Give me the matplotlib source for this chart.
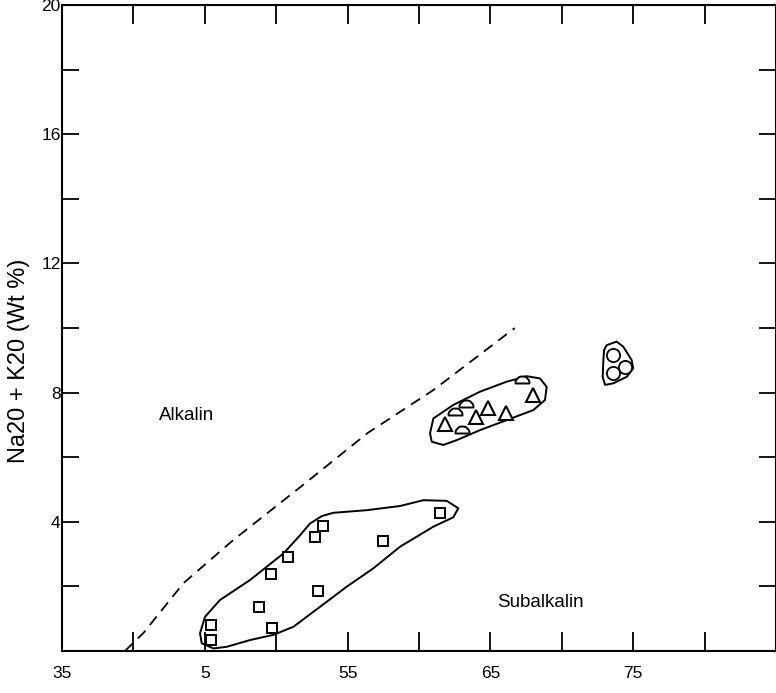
import matplotlib
matplotlib.use("Agg")
import matplotlib.pyplot as plt
import matplotlib.path as mpath
import numpy as np

plt.rcParams['font.family'] = ['Liberation Sans', 'DejaVu Sans']

# sample points (SiO2 wt%, Na2O + K2O wt%)
sq_x = [45.4, 45.4, 49.7, 48.8, 52.9, 49.6, 50.8, 52.7, 53.3, 57.5, 61.5]
sq_y = [0.80, 0.34, 0.71, 1.36, 1.86, 2.38, 2.91, 3.53, 3.87, 3.41, 4.27]

tri_x = [61.8, 64.0, 64.8, 66.1, 68.0]
tri_y = [7.03, 7.25, 7.51, 7.38, 7.93]

dome_x = [62.5, 63.3, 63.0, 67.2]
dome_y = [7.31, 7.56, 6.76, 8.29]

circ_x = [73.6, 74.4, 73.6]
circ_y = [9.16, 8.80, 8.62]

# alkaline / subalkaline divide
div_x = [39.4, 40.7, 43.5, 47.0, 51.7, 56.4, 61.0, 66.7]
div_y = [0.0, 0.56, 2.1, 3.44, 5.08, 6.75, 8.08, 10.0]

# group envelopes
env1_x = [44.66, 45.01, 46.06, 48.17, 50.5, 51.6, 52.37, 53.2, 54.0, 56.33, 58.67, 60.3, 61.94,
          62.75, 62.4, 61.0, 58.67, 56.8, 54.93, 53.07, 51.2, 49.8, 48.17, 46.53,
          45.6, 44.78]
env1_y = [0.55, 1.06, 1.58, 2.20, 3.02, 3.55, 3.95, 4.18, 4.28, 4.36, 4.49, 4.67, 4.65,
          4.42, 4.14, 3.85, 3.23, 2.56, 1.99, 1.37, 0.75, 0.50, 0.34, 0.13,
          0.08, 0.24]

env2_x = [60.77, 61.0, 62.4, 64.27, 66.14, 67.54, 68.47, 68.94, 68.82, 68.0,
          66.14, 64.27, 62.64, 61.7, 60.89]
env2_y = [6.74, 7.20, 7.62, 8.03, 8.34, 8.51, 8.44, 8.18, 7.77, 7.46,
          7.15, 6.84, 6.53, 6.38, 6.48]

env3_x = [73.14, 73.84, 74.31, 74.89, 75.0, 74.54, 73.61, 73.03, 72.86, 72.91, 72.96]
env3_y = [9.47, 9.58, 9.42, 9.01, 8.75, 8.49, 8.29, 8.24, 8.49, 9.01, 9.32]

x_ticks = [35, 40, 45, 50, 55, 60, 65, 70, 75, 80, 85]
x_labels = ["35", "", "5", "", "55", "", "65", "", "75", "", ""]
y_ticks = [0, 2, 4, 6, 8, 10, 12, 14, 16, 18, 20]
y_labels = ["", "", "4", "", "8", "", "12", "", "16", "", "20"]

# half-circle marker
arc = mpath.Path.arc(0, 180)
dome = mpath.Path(np.vstack([arc.vertices, arc.vertices[:1]]), None, closed=True)

fig = plt.figure(figsize=(7.76, 6.93), dpi=100)
ax = fig.add_axes([0.080, 0.0606, 0.920, 0.932])

ax.plot(div_x, div_y, color='black', lw=1.3, ls=(0, (6, 4)))

for ex, ey in [(env1_x, env1_y), (env2_x, env2_y), (env3_x, env3_y)]:
    ax.fill(ex, ey, facecolor='none', edgecolor='black', lw=1.4, joinstyle='round')

ax.plot(sq_x, sq_y, 's', ms=7, mfc='white', mec='black', mew=1.4, ls='none')
ax.plot(tri_x, tri_y, '^', ms=9.5, mfc='white', mec='black', mew=1.5, ls='none')
ax.plot(dome_x, dome_y, marker=dome, ms=10, mfc='white', mec='black', mew=1.4, ls='none')
ax.plot(circ_x, circ_y, 'o', ms=9.5, mfc='white', mec='black', mew=1.3, ls='none')

ax.text(43.7, 7.3, "Alkalin", fontsize=13.5, ha='center', va='center')
ax.text(68.5, 1.5, "Subalkalin", fontsize=13.5, ha='center', va='center')

ax.set_xlim(35, 85)
ax.set_ylim(0, 20)
ax.set_xticks(x_ticks)
ax.set_xticklabels(x_labels)
ax.set_yticks(y_ticks)
ax.set_yticklabels(y_labels)
ax.tick_params(direction='in', width=1.3, labelsize=12.5, top=True, right=True)
ax.tick_params(axis='x', length=14, pad=11)
ax.tick_params(axis='y', length=12, pad=1)

ax.set_ylabel("Na20 + K20 (Wt %)", fontsize=17)
ax.yaxis.set_label_coords(-0.045, 0.45)

for s in ax.spines.values():
    s.set_linewidth(1.5)

fig.savefig("out.png", dpi=100)
